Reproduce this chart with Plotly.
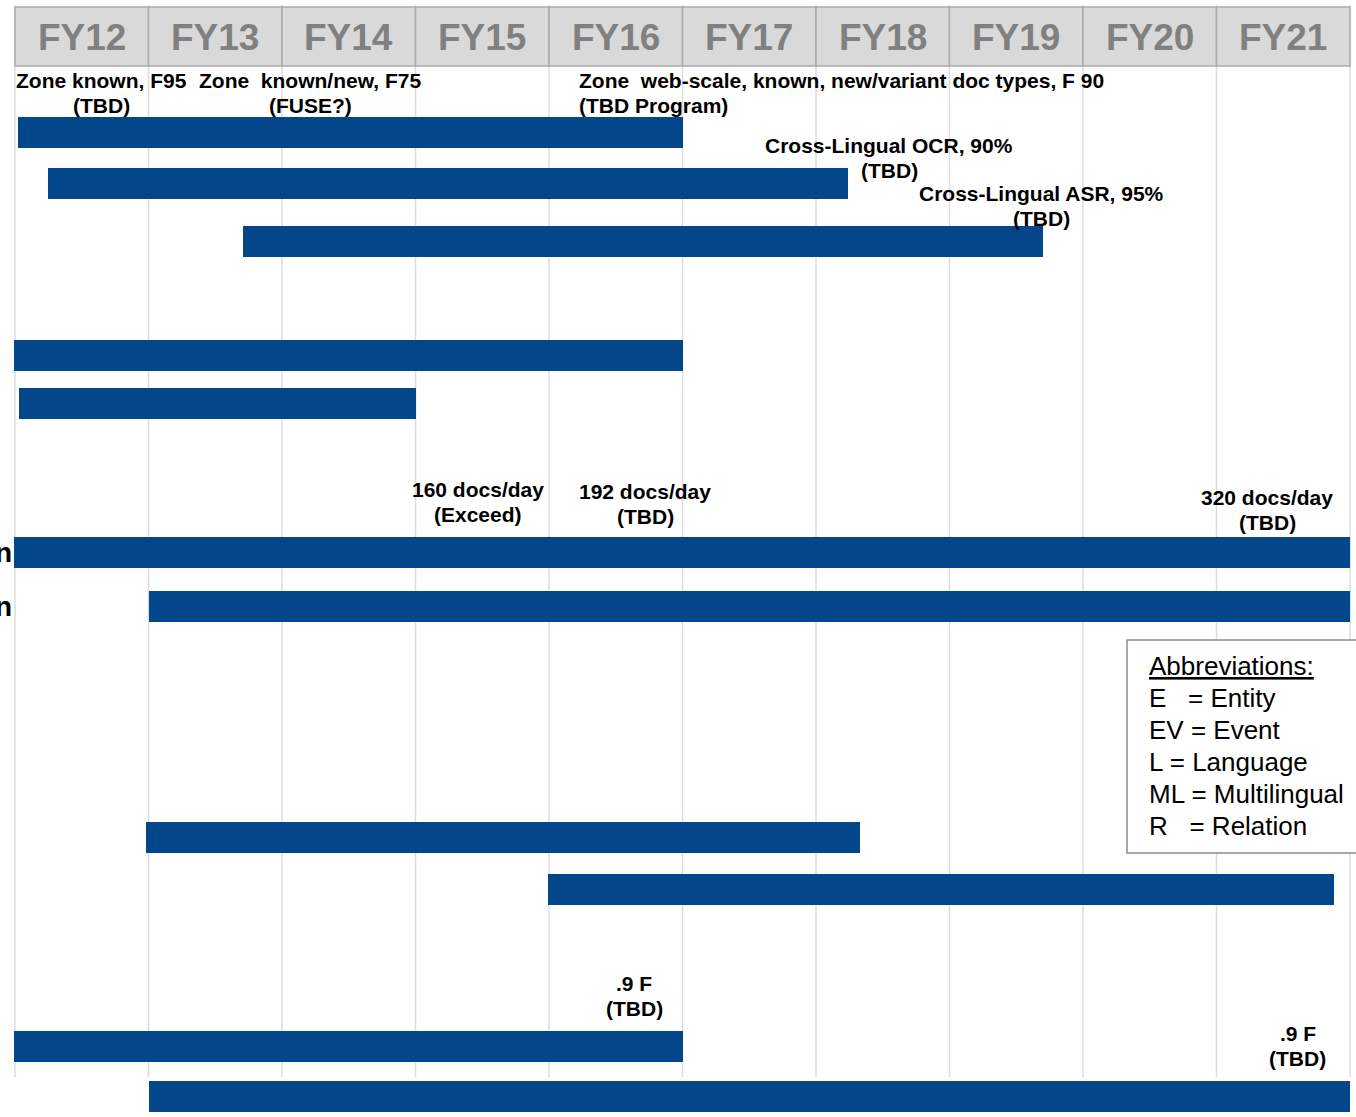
import plotly.graph_objects as go

# ---------------- data ----------------
fiscal_years = ["FY12", "FY13", "FY14", "FY15", "FY16", "FY17", "FY18", "FY19", "FY20", "FY21"]
fy_start = 2012  # left edge of FY12

# bar start / end in fiscal-year units
bar_start = [2012.02, 2012.25, 2013.71, 2011.99, 2012.03, 2011.99, 2013.0, 2012.98, 2015.99, 2011.99, 2013.0]
bar_end = [2017.0, 2018.24, 2019.70, 2017.0, 2015.0, 2022.0, 2022.0, 2018.33, 2021.88, 2017.0, 2022.0]

row_labels = ["", "", "", "", "", "n", "n", "", "", "", ""]

milestone_text = [
    "Zone known, F95<br>(TBD)",
    "Zone\u00a0\u00a0known/new, F75<br>(FUSE?)",
    "Zone\u00a0\u00a0web-scale, known, new/variant doc types, F 90<br>(TBD Program)",
    "Cross-Lingual OCR, 90%<br>(TBD)",
    "Cross-Lingual ASR, 95%<br>(TBD)",
    "160 docs/day<br>(Exceed)",
    "192 docs/day<br>(TBD)",
    "320 docs/day<br>(TBD)",
    ".9 F<br>(TBD)",
    ".9 F<br>(TBD)",
]
milestone_x = [2012.65, 2014.21, 2016.21, 2018.55, 2019.69, 2015.47, 2016.72, 2021.38, 2016.64, 2021.61]

abbrev_lines = [
    "<u>Abbreviations:</u>",
    "E\u00a0\u00a0\u00a0= Entity",
    "EV = Event",
    "L = Language",
    "ML = Multilingual",
    "R\u00a0\u00a0\u00a0= Relation",
]

# ---------------- layout helpers (pixel-based vertical layout) ----------------
W, H = 1356, 1117
px_per_year = 133.5
x_left_px = 15
x0 = fy_start - x_left_px / px_per_year
x1 = x0 + W / px_per_year

row_y = [132.5, 183.5, 241.5, 355.5, 403.5, 552.5, 606.5, 837.5, 889.5, 1046.5, 1096.5]
bar_thickness = 31.5
milestone_y = [92.5, 92.5, 92.5, 157.5, 205.5, 502, 503.5, 509.5, 995.5, 1045.5]
milestone_anchor = ["center", "center", "left", "center", "center", "center", "center", "center", "center", "center"]
line_gap = 25
abbrev_top, abbrev_gap = 666, 32

BAR_COLOR = "#03478A"
GRID_COLOR = "#dcdcdc"
FONT = "Liberation Sans, Arial, sans-serif"

fig = go.Figure()

fig.add_trace(go.Bar(
    orientation="h",
    y=row_y,
    base=bar_start,
    x=[e - s for s, e in zip(bar_start, bar_end)],
    width=bar_thickness,
    marker=dict(color=BAR_COLOR, line=dict(width=0)),
    hoverinfo="skip",
    showlegend=False,
))

shapes = []
# vertical grid lines
for i in range(len(fiscal_years) + 1):
    shapes.append(dict(type="line", xref="x", yref="y", x0=fy_start + i, x1=fy_start + i,
                       y0=5, y1=1077, line=dict(color=GRID_COLOR, width=1.5), layer="below"))
# header cells
for i, fy in enumerate(fiscal_years):
    shapes.append(dict(type="rect", xref="x", yref="y", x0=fy_start + i, x1=fy_start + i + 1,
                       y0=7, y1=66, fillcolor="#d9d9d9", line=dict(color="#ababab", width=1.5),
                       layer="above"))
# abbreviation box
shapes.append(dict(type="rect", xref="x", yref="y", x0=fy_start + (1127 - x_left_px) / px_per_year,
                   x1=x1 + 1, y0=640, y1=853, fillcolor="white",
                   line=dict(color="#8c8c8c", width=1.5), layer="above"))

annotations = []
for i, fy in enumerate(fiscal_years):
    annotations.append(dict(x=fy_start + i + 0.5, y=37, xref="x", yref="y", text=f"<b>{fy}</b>",
                            showarrow=False, font=dict(family=FONT, size=37, color="#808080"),
                            xanchor="center", yanchor="middle"))
for t, x, yc, a in zip(milestone_text, milestone_x, milestone_y, milestone_anchor):
    lines = t.split("<br>")
    n = len(lines)
    for k, ln in enumerate(lines):
        y = yc + (k - (n - 1) / 2) * line_gap
        annotations.append(dict(x=x, y=y, xref="x", yref="y", text=f"<b>{ln}</b>",
                                showarrow=False, align=a, xanchor=a, yanchor="middle",
                                font=dict(family=FONT, size=21, color="black")))
for lab, y in zip(row_labels, row_y):
    if lab:
        annotations.append(dict(x=fy_start - 0.008, y=y, xref="x", yref="y", text=f"<b>{lab}</b>",
                                showarrow=False, xanchor="right", yanchor="middle",
                                font=dict(family=FONT, size=28, color="black")))
for k, ln in enumerate(abbrev_lines):
    annotations.append(dict(x=fy_start + (1147 - x_left_px) / px_per_year, y=abbrev_top + k * abbrev_gap,
                            xref="x", yref="y", text=ln, showarrow=False, align="left",
                            xanchor="left", yanchor="middle",
                            font=dict(family=FONT, size=26, color="black")))

fig.update_layout(
    width=W, height=H,
    margin=dict(l=0, r=0, t=0, b=0),
    paper_bgcolor="white", plot_bgcolor="white",
    xaxis=dict(range=[x0, x1], visible=False, fixedrange=True),
    yaxis=dict(range=[H, 0], visible=False, fixedrange=True),
    shapes=shapes, annotations=annotations,
    bargap=0,
)

fig.write_html("out.html", config={"displayModeBar": False},
               post_script="document.body.style.margin='0';document.body.style.overflow='hidden';")
